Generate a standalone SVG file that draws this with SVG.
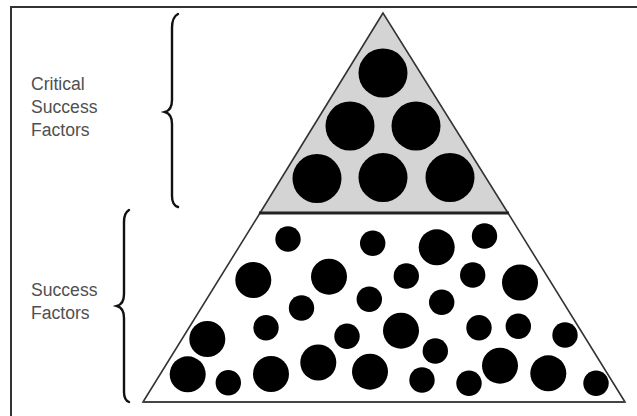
<svg xmlns="http://www.w3.org/2000/svg" width="637" height="416" viewBox="0 0 637 416">
<style>
.frame{stroke:#333;stroke-width:2;fill:none}
.tri{stroke:#333;stroke-width:1.6;stroke-linejoin:miter}
.dot{fill:#000}
.brace{fill:none;stroke:#111;stroke-width:2.4;stroke-linecap:round}
.lbl{font-family:"Liberation Sans",Arial,sans-serif;font-size:17.6px;fill:#505050}
</style>
<rect width="637" height="416" fill="#fff"/>
<g id="frame"><path class="frame" d="M11,416 V7 H637"/></g>
<g id="critical-tier">
<polygon class="tri" points="383,13 260,213 508,213" fill="#d4d4d4"/>
<g class="dot">
<circle cx="383" cy="73" r="24.5"/>
<circle cx="350" cy="126" r="24.5"/>
<circle cx="416" cy="126" r="24.5"/>
<circle cx="317" cy="178.5" r="24.5"/>
<circle cx="383" cy="177.5" r="24.5"/>
<circle cx="450" cy="177.5" r="24.5"/>
</g>
</g>
<g id="success-tier">
<polygon class="tri" points="260,213 508,213 625,402 143,402" fill="#fff"/>
<line x1="259" y1="213" x2="509" y2="213" stroke="#222" stroke-width="3.2"/>
<line x1="143" y1="402" x2="625" y2="402" stroke="#444" stroke-width="2"/>
<g class="dot">
<circle cx="288" cy="239" r="12.7"/>
<circle cx="253.3" cy="280" r="18"/>
<circle cx="301.5" cy="308" r="12.7"/>
<circle cx="266" cy="327.7" r="12.7"/>
<circle cx="207.3" cy="339" r="18"/>
<circle cx="187.7" cy="374.3" r="18"/>
<circle cx="228.3" cy="382.7" r="12.7"/>
<circle cx="271" cy="374" r="18"/>
<circle cx="372.7" cy="243.3" r="12.7"/>
<circle cx="436.7" cy="247.3" r="18"/>
<circle cx="329" cy="276.7" r="18"/>
<circle cx="406.3" cy="276" r="12.7"/>
<circle cx="369.3" cy="299.3" r="12.7"/>
<circle cx="441.7" cy="302.3" r="12.7"/>
<circle cx="401" cy="330.7" r="18"/>
<circle cx="347" cy="336.3" r="12.7"/>
<circle cx="435.3" cy="351" r="12.7"/>
<circle cx="318.3" cy="362.5" r="18"/>
<circle cx="370" cy="371.7" r="18"/>
<circle cx="422" cy="380" r="12.7"/>
<circle cx="484.5" cy="236" r="12.7"/>
<circle cx="472.7" cy="275" r="12.7"/>
<circle cx="520" cy="282.5" r="18"/>
<circle cx="479" cy="327.7" r="12.7"/>
<circle cx="518.3" cy="326.3" r="12.7"/>
<circle cx="565" cy="335" r="12.7"/>
<circle cx="500" cy="365.7" r="18"/>
<circle cx="548.3" cy="373.3" r="18"/>
<circle cx="596" cy="383.3" r="12.7"/>
<circle cx="469" cy="383.3" r="12.7"/>
</g>
</g>
<g id="critical-brace"><path class="brace" d="M178,14 Q172,17 172,28 V100 Q172,110 165,112 Q172,114 172,124 V196 Q172,205 178,207"/></g>
<g id="success-brace"><path class="brace" d="M129,210 Q124,213 124,222 V294 Q124,304 117,306 Q124,308 124,318 V392 Q124,400 129,402"/></g>
<g id="labels">
<text class="lbl" x="31" y="90">Critical</text>
<text class="lbl" x="31" y="113">Success</text>
<text class="lbl" x="31" y="136">Factors</text>
<text class="lbl" x="31" y="296">Success</text>
<text class="lbl" x="31" y="319">Factors</text>
</g>
</svg>
